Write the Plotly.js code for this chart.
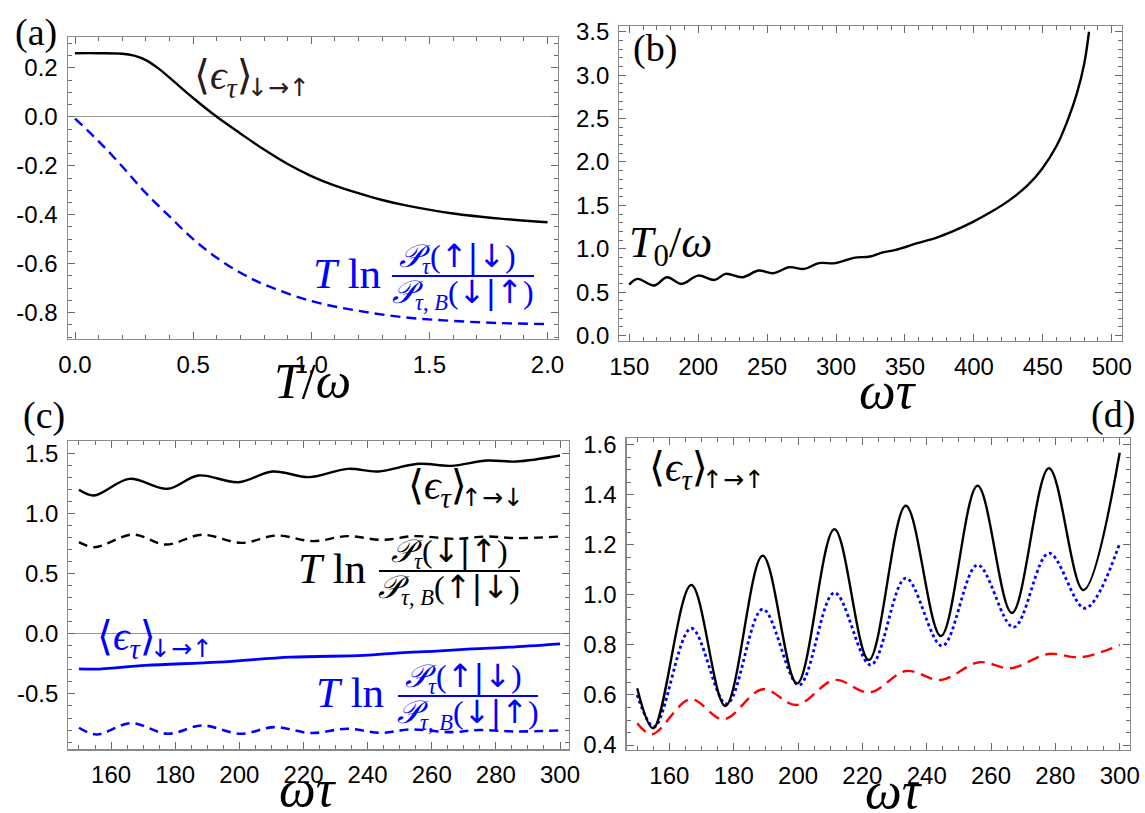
<!DOCTYPE html>
<html><head><meta charset="utf-8">
<script src="https://cdn.plot.ly/plotly-3.0.1.min.js"></script>
<style>body{margin:0;background:#fff}#g{width:1145px;height:813px}</style>
</head><body><div id="g"></div>
<script>
// ---- data ----
// (a) vs T/omega
const aX = [0, 0.1, 0.2, 0.25, 0.3, 0.35, 0.4, 0.5, 0.6, 0.7, 0.8, 0.9, 1.0, 1.1, 1.2, 1.3, 1.4, 1.6, 1.8, 2.0];
const aEps = [0.26, 0.26, 0.258, 0.25, 0.232, 0.2, 0.16, 0.077, 0.0, -0.068, -0.134, -0.193, -0.242, -0.281, -0.312, -0.34, -0.362, -0.395, -0.416, -0.431];
const aLogX = [0, 0.1, 0.2, 0.3, 0.4, 0.5, 0.6, 0.7, 0.8, 1.0, 1.2, 1.4, 1.6, 1.8, 2.0];
const aLog = [-0.007, -0.10, -0.203, -0.312, -0.407, -0.50, -0.576, -0.637, -0.685, -0.753, -0.793, -0.82, -0.834, -0.843, -0.847];
const aYTicks = [0.2, 0.0, -0.2, -0.4, -0.6, -0.8];
const aYText = ['0.2', '0.0', '-0.2', '-0.4', '-0.6', '-0.8'];
// (b) T0/omega vs omega tau
const bX = [150, 156, 168, 177.4, 188, 200, 212, 220, 232, 244, 254.4, 266, 277, 287.5, 299.5, 312.8, 324.7, 332.7, 343.3, 359, 372.5, 385.8, 399, 412.3, 425.6, 438.9, 449.5, 460.1, 468, 474.7, 480, 483.5];
const bT0 = [0.588, 0.654, 0.577, 0.673, 0.596, 0.692, 0.642, 0.712, 0.673, 0.75, 0.719, 0.788, 0.769, 0.835, 0.835, 0.896, 0.912, 0.954, 0.988, 1.065, 1.127, 1.21, 1.308, 1.423, 1.558, 1.73, 1.923, 2.19, 2.48, 2.79, 3.13, 3.5];
// (c)
const cX1 = [150, 154.7, 165.7, 177.6, 187.2, 199.7, 210.4, 221.8, 233.7, 243.3, 255.8, 266, 277.3, 286.4, 300];
const cEpsUD = [1.197, 1.15, 1.288, 1.205, 1.316, 1.26, 1.349, 1.302, 1.371, 1.349, 1.413, 1.396, 1.44, 1.432, 1.482];
const cX2 = [150, 154.9, 166.8, 177, 188.4, 200.8, 211.6, 223, 233.7, 244.5, 254.7, 267.2, 277.3, 286.4, 300];
const cLogUD = [0.762, 0.72, 0.825, 0.742, 0.823, 0.756, 0.817, 0.77, 0.812, 0.781, 0.812, 0.789, 0.809, 0.795, 0.809];
const cX3 = [150, 155, 170.8, 193.5, 216, 238.8, 250, 261.5, 272.8, 284, 300];
const cEpsDU = [-0.291, -0.294, -0.263, -0.235, -0.194, -0.18, -0.158, -0.144, -0.125, -0.111, -0.083];
const cX4 = [150, 155.5, 166.3, 177.6, 188.4, 200.3, 211, 222.4, 233.7, 244, 253.5, 266, 275, 286.4, 300];
const cLogDU = [-0.781, -0.837, -0.742, -0.831, -0.762, -0.831, -0.776, -0.825, -0.789, -0.823, -0.795, -0.817, -0.8, -0.812, -0.803];
const cYTicks = [1.5, 1.0, 0.5, 0.0, -0.5];
const cYText = ['1.5', '1.0', '0.5', '0.0', '-0.5'];
// (d)
const dX1 = [150, 155, 166.8, 177.4, 189, 199.7, 211.3, 222, 233.5, 244.4, 255.8, 266.5, 278, 288.7, 300];
const dEps = [0.627, 0.467, 1.04, 0.556, 1.157, 0.646, 1.263, 0.74, 1.357, 0.836, 1.437, 0.928, 1.507, 1.02, 1.569];
const dX2 = [150, 155.3, 166.8, 177.8, 189, 200.3, 211.3, 222.6, 233.5, 244.8, 255.8, 267, 278, 289.2, 300];
const dDot = [0.60, 0.473, 0.867, 0.564, 0.943, 0.64, 1.009, 0.72, 1.067, 0.796, 1.12, 0.871, 1.167, 0.947, 1.207];
const dX3 = [150, 154.6, 166.6, 176.8, 189, 199.5, 211.4, 222.2, 233.6, 244.4, 256.3, 266, 277.9, 288, 300];
const dRed = [0.487, 0.443, 0.583, 0.503, 0.623, 0.56, 0.66, 0.61, 0.696, 0.66, 0.731, 0.707, 0.764, 0.751, 0.8];

// ---- helpers ----
const W = 1145, H = 813;
const px = x => x / W, py = y => 1 - y / H;
const BLUE = '#0000ff', BLK = '#000000', RED = '#ff0000';
const MATH = 'Liberation Serif, DejaVu Serif, serif';
const ARW = 'DejaVu Sans, sans-serif';
const SP = {shape: 'spline', smoothing: 1};

function tr(x, y, xa, ya, color, dash, width) {
  return {x: x, y: y, xaxis: xa, yaxis: ya, mode: 'lines', hoverinfo: 'skip',
    line: Object.assign({color: color, width: width || 2.4, dash: dash || 'solid'}, SP), showlegend: false};
}
const data = [
  tr(aX, aEps, 'x', 'y', BLK),
  tr(aLogX, aLog, 'x', 'y', BLUE, '10px,6px'),
  tr(bX, bT0, 'x2', 'y2', BLK),
  tr(cX1, cEpsUD, 'x3', 'y3', BLK),
  tr(cX2, cLogUD, 'x3', 'y3', BLK, '9px,6px'),
  tr(cX3, cEpsDU, 'x3', 'y3', BLUE, 'solid', 2.8),
  tr(cX4, cLogDU, 'x3', 'y3', BLUE, '9px,6px', 2.6),
  tr(dX3, dRed, 'x4', 'y4', RED, '12px,7px'),
  tr(dX2, dDot, 'x4', 'y4', BLUE, '3px,3px', 2.8),
  tr(dX1, dEps, 'x4', 'y4', BLK)
];

function ax(domain, range, dtick, minorD, anchor, extra) {
  return Object.assign({
    domain: domain, range: range, anchor: anchor, dtick: dtick, tick0: 0,
    showline: true, mirror: 'allticks', linecolor: '#8a8a8a', linewidth: 1.2,
    ticks: 'inside', ticklen: 7, tickcolor: '#6a6a6a', tickwidth: 1,
    minor: {dtick: minorD, tick0: 0, ticks: 'inside', ticklen: 4, tickcolor: '#6a6a6a', tickwidth: 1, showgrid: false},
    showgrid: false, zeroline: false,
    tickfont: {family: 'Liberation Sans, Arial, sans-serif', size: 24, color: '#000'},
    ticklabelstandoff: 4, fixedrange: true
  }, extra || {});
}

const layout = {
  width: W, height: H, margin: {l: 0, r: 0, t: 0, b: 0},
  paper_bgcolor: '#fff', plot_bgcolor: '#fff', showlegend: false,
  xaxis: ax([px(67.7), px(557.7)], [-0.031, 2.043], 0.5, 0.1, 'y', {tickformat: '.1f'}),
  yaxis: ax([py(339), py(37.3)], [-0.908, 0.325], 0.2, 0.05, 'x', {tickmode: 'array', tickvals: aYTicks, ticktext: aYText, zeroline: true, zerolinecolor: '#9a9a9a', zerolinewidth: 1.2}),
  xaxis2: ax([px(619.3), px(1121.7)], [142.8, 507.2], 50, 10, 'y2'),
  yaxis2: ax([py(340.7), py(26)], [-0.058, 3.566], 0.5, 0.1, 'x2', {tickformat: '.1f'}),
  xaxis3: ax([px(68.4), px(569)], [146.7, 302.8], 20, 5, 'y3'),
  yaxis3: ax([py(749.3), py(440.7)], [-0.96, 1.605], 0.5, 0.1, 'x3', {tickmode: 'array', tickvals: cYTicks, ticktext: cYText, zeroline: true, zerolinecolor: '#9a9a9a', zerolinewidth: 1.2}),
  xaxis4: ax([px(626.6), px(1130)], [146.7, 303.2], 20, 5, 'y4'),
  yaxis4: ax([py(750), py(437.7)], [0.38, 1.629], 0.2, 0.05, 'x4', {tickformat: '.1f'}),
  annotations: [], shapes: []
};

function txt(x, y, text, size, color, xanchor, family) {
  layout.annotations.push({xref: 'paper', yref: 'paper', x: px(x), y: py(y), text: text,
    showarrow: false, xanchor: xanchor || 'center', yanchor: 'middle',
    font: {family: family || MATH, size: size, color: color || '#000'}});
}
function bar(x0, x1, y, color) {
  layout.shapes.push({type: 'line', xref: 'paper', yref: 'paper', x0: px(x0), x1: px(x1), y0: py(y), y1: py(y),
    line: {color: color, width: 1.8}});
}
// <epsilon_tau> with arrow subscript drawn as a second, lower text
function eps(x, y, arrows, color) {
  txt(x, y, '⟨<i>ϵ</i><sub><i>τ</i></sub>⟩', 41, color, 'left');
  txt(x + 53, y + 9, arrows, 25, color, 'left', ARW);
}
const PP = '<i>𝒫</i>';
const A = s => '<span style="font-family:DejaVu Sans">' + s + '</span>';
function frac(lx, ly, numC, denC, bx0, bx1, by, color, num, den) {
  txt(lx, ly, '<i>T</i> ln', 43, color, 'left');
  txt(numC, by - 18, num, 32, color);
  bar(bx0, bx1, by, color);
  txt(denC, by + 18, den, 32, color);
}
const NUM = s => PP + '<sub><i>τ</i></sub>(' + A(s) + ')';
const DEN = s => PP + '<sub><i>τ</i>, <i>B</i></sub>(' + A(s) + ')';

// panel labels
txt(36, 32, '(a)', 38);
txt(655, 49, '(b)', 38);
txt(44, 416, '(c)', 38);
txt(1113, 414, '(d)', 38);
// axis titles
txt(312, 381, '<i>T</i>/<i>ω</i>', 50);
txt(888, 391, '<i>ωτ</i>', 52);
txt(308, 788, '<i>ωτ</i>', 52);
txt(894, 790, '<i>ωτ</i>', 52);
// curve labels
eps(192, 78, '↓→↑', '#2e1a1a');
frac(311, 273, 457, 463, 392, 534, 276, BLUE, NUM('↑|↓'), DEN('↓|↑'));
txt(627, 245, '<i>T</i><sub>0</sub>/<i>ω</i>', 44, '#000', 'left');
eps(406, 488, '↑→↓', '#000');
frac(296, 568, 450, 449, 379, 520, 571, BLK, NUM('↓|↑'), DEN('↑|↓'));
eps(95, 639, '↓→↑', BLUE);
frac(314, 692, 463, 468, 398, 538, 696, BLUE, NUM('↑|↓'), DEN('↓|↑'));
eps(647, 470, '↑→↑', '#000');

Plotly.newPlot('g', data, layout, {staticPlot: true, displayModeBar: false});
</script></body></html>
